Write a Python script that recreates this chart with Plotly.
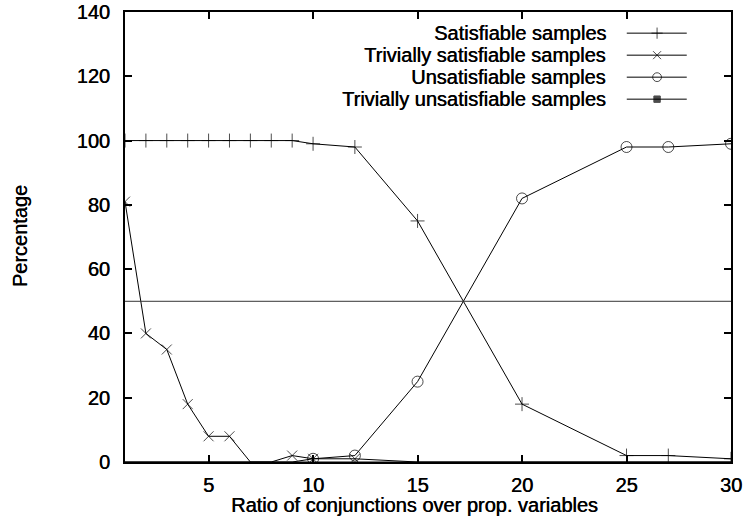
import plotly.graph_objects as go

# ---- data ----
sat_x = [1, 2, 3, 4, 5, 6, 7, 8, 9, 10, 12, 15, 20, 25, 27, 30]
sat_y = [100, 100, 100, 100, 100, 100, 100, 100, 100, 99, 98, 75, 18, 2, 2, 1]

triv_sat_x = [1, 2, 3, 4, 5, 6, 7, 8, 9, 10, 12, 15, 20, 25, 27, 30]
triv_sat_y = [81, 40, 35, 18, 8, 8, 0, 0, 2, 1, 1, 0, 0, 0, 0, 0]

unsat_x = [1, 2, 3, 4, 5, 6, 7, 8, 9, 10, 12, 15, 20, 25, 27, 30]
unsat_y = [0, 0, 0, 0, 0, 0, 0, 0, 0, 1, 2, 25, 82, 98, 98, 99]

triv_unsat_x = [1, 2, 3, 4, 5, 6, 7, 8, 9, 10, 12, 15, 20, 25, 27, 30]
triv_unsat_y = [0, 0, 0, 0, 0, 0, 0, 0, 0, 0, 0, 0, 0, 0, 0, 0]

threshold = 50
x_ticks = [5, 10, 15, 20, 25, 30]
y_ticks = [0, 20, 40, 60, 80, 100, 120, 140]

series_names = ["Satisfiable samples", "Trivially satisfiable samples",
                "Unsatisfiable samples", "Trivially unsatisfiable samples"]
series_symbols = ["cross-thin-open", "x-thin-open", "circle-open", "square"]
series_sizes = [10, 10, 11, 8]

FONT = "Liberation Sans, Arial, sans-serif"
FS = 20
SHADOW = "0.45px 0px 0px black"

fig = go.Figure()

data = [(sat_x, sat_y), (triv_sat_x, triv_sat_y), (unsat_x, unsat_y), (triv_unsat_x, triv_unsat_y)]
for (xs, ys), name, sym, sz in zip(data, series_names, series_symbols, series_sizes):
    # points lying on the border (value 0) are not drawn, as in the original
    sizes = [0 if v == 0 else sz for v in ys]
    fig.add_trace(go.Scatter(
        x=xs, y=ys, mode="lines+markers", name=name, showlegend=False,
        line=dict(color="black", width=1),
        marker=dict(symbol=sym, size=sizes, color="black", line=dict(color="black", width=1)),
        cliponaxis=True,
    ))

# threshold line
fig.add_trace(go.Scatter(
    x=[1, 30], y=[threshold, threshold], mode="lines", showlegend=False,
    line=dict(color="#333333", width=1), hoverinfo="skip",
))

# manual legend (text right-aligned, sample on the right)
leg_top = 0.953
leg_step = 0.0489
for i, (name, sym, sz) in enumerate(zip(series_names, series_symbols, series_sizes)):
    yy = leg_top - i * leg_step
    fig.add_annotation(
        xref="paper", yref="paper", x=0.797, y=yy, text=name, showarrow=False,
        xanchor="right", yanchor="middle",
        font=dict(family=FONT, size=FS, color="black", shadow=SHADOW),
    )
    fig.add_trace(go.Scatter(
        x=[0.828, 0.878, 0.927], y=[yy, yy, yy], xaxis="x2", yaxis="y2",
        mode="lines+markers", showlegend=False, hoverinfo="skip",
        line=dict(color="black", width=1),
        marker=dict(symbol=["circle", sym, "circle"], size=[0, sz * 0.8, 0], color="black",
                    line=dict(color="black", width=1)),
    ))

fig.update_layout(
    width=746, height=529,
    margin=dict(l=125, r=15, t=12, b=67, autoexpand=False),
    paper_bgcolor="white", plot_bgcolor="white",
    showlegend=False,
    font=dict(family=FONT, color="black"),
    xaxis=dict(
        range=[1, 30], tickvals=x_ticks, ticks="inside", ticklen=7, tickwidth=2,
        tickcolor="black", showline=True, linecolor="black", linewidth=2, mirror="ticks",
        showgrid=False, zeroline=False, automargin=False, ticklabelstandoff=4,
        tickfont=dict(family=FONT, size=FS, color="black", shadow=SHADOW),
    ),
    yaxis=dict(
        range=[0, 140], tickvals=y_ticks, ticks="inside", ticklen=7, tickwidth=2,
        tickcolor="black", showline=True, linecolor="black", linewidth=2, mirror="ticks",
        showgrid=False, zeroline=False, automargin=False, ticklabelstandoff=9,
        tickfont=dict(family=FONT, size=FS, color="black", shadow=SHADOW),
    ),
    xaxis2=dict(overlaying="x", range=[0, 1], visible=False, fixedrange=True),
    yaxis2=dict(overlaying="y", range=[0, 1], visible=False, fixedrange=True),
)

# axis titles
fig.add_annotation(
    xref="paper", yref="paper", x=0.478, y=-0.096, yanchor="middle", xanchor="center",
    text="Ratio of conjunctions over prop. variables", showarrow=False,
    font=dict(family=FONT, size=FS, color="black", shadow=SHADOW),
)
fig.add_annotation(
    xref="paper", yref="paper", x=-0.173, y=0.502, xanchor="center", yanchor="middle",
    text="Percentage", textangle=-90, showarrow=False,
    font=dict(family=FONT, size=FS, color="black", shadow=SHADOW),
)

fig.write_html("out.html")
